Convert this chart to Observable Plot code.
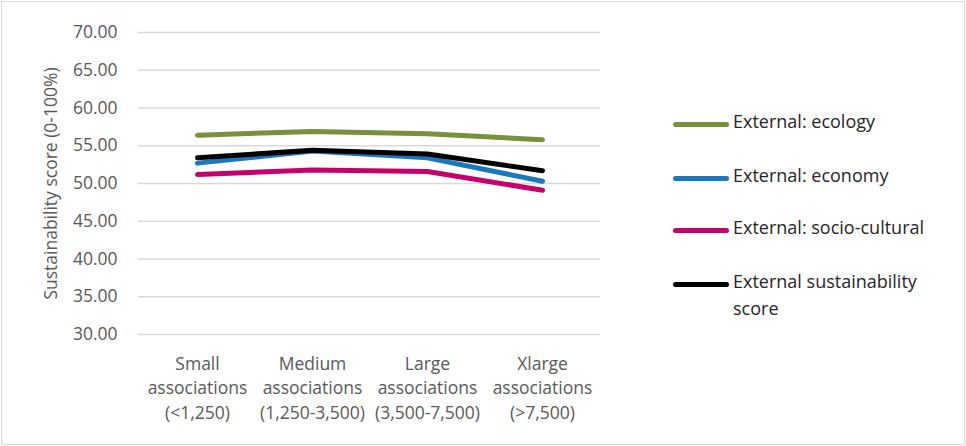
<!DOCTYPE html>
<html>
<head>
<meta charset="utf-8">
<script src="https://cdn.jsdelivr.net/npm/d3@7"></script>
<script src="https://cdn.jsdelivr.net/npm/@observablehq/plot@0.6"></script>
<style>
  body { margin: 0; background: #fff; }
  #wrap { position: relative; width: 966px; height: 446px; font-family: "Open Sans", sans-serif; }
  #border { position: absolute; left: 1px; top: 1px; width: 962px; height: 442px; border: 1px solid #d9d9d9; pointer-events: none; }
  #chart { position: absolute; left: 0; top: 0; }
  .legend-item { position: absolute; left: 673px; display: flex; align-items: flex-start; }
  .legend-swatch { width: 56px; height: 5px; border-radius: 3px; margin-top: 10px; margin-right: 4px; flex: none; }
  .legend-label { font-size: 18px; color: #262626; line-height: 27px; margin-top: -4px; width: 210px; }
</style>
</head>
<body>
<div id="wrap">
  <div id="chart"></div>
  <div id="legend"></div>
  <div id="border"></div>
</div>
<script>
// Association size classes (x axis)
const categories = [
  "Small\nassociations\n(<1,250)",
  "Medium\nassociations\n(1,250-3,500)",
  "Large\nassociations\n(3,500-7,500)",
  "Xlarge\nassociations\n(>7,500)"
];

// Mean external sustainability scores per size class
const ecology       = [56.4, 56.9, 56.6, 55.8];
const economy       = [52.7, 54.3, 53.4, 50.3];
const socioCultural = [51.2, 51.8, 51.6, 49.1];
const overall       = [53.4, 54.4, 53.9, 51.7];

const seriesNames  = ["External: ecology", "External: economy", "External: socio-cultural", "External sustainability score"];
const seriesValues = [ecology, economy, socioCultural, overall];
const seriesColors = ["#77923a", "#1c78be", "#c8006c", "#000000"];

const yTicks = [30, 35, 40, 45, 50, 55, 60, 65, 70];

const rows = seriesNames.flatMap((name, i) =>
  categories.map((c, j) => ({ series: name, category: c, value: seriesValues[i][j] }))
);

const chart = Plot.plot({
  width: 966,
  height: 446,
  marginLeft: 138,
  marginRight: 366,
  marginTop: 32,
  marginBottom: 112,
  style: { fontFamily: "'Open Sans', sans-serif", fontSize: "17.5px", color: "#595959", background: "transparent" },
  x: { type: "point", domain: categories, padding: 0.5, label: null },
  y: { domain: [30, 70], ticks: yTicks, label: null },
  color: { domain: seriesNames, range: seriesColors },
  marks: [
    Plot.gridY(yTicks, { stroke: "#d9d9d9", strokeOpacity: 1, strokeWidth: 1.3 }),
    Plot.axisY(yTicks, {
      tickSize: 0, tickPadding: 21, tickFormat: d => d.toFixed(2),
      fontSize: 17.5, fill: "#595959",
      label: "Sustainability score (0-100%)", labelAnchor: "center", labelOffset: 94, labelArrow: "none"
    }),
    Plot.axisX({
      tickSize: 0, tickPadding: 18, fontSize: 17.5, fill: "#595959", lineHeight: 1.4, label: null
    }),
    Plot.line(rows, {
      x: "category", y: "value", z: "series", stroke: "series",
      strokeWidth: 5, strokeLinecap: "round", strokeLinejoin: "round"
    })
  ]
});
document.getElementById("chart").appendChild(chart);

// Legend to the right of the plot
const legend = document.getElementById("legend");
const legendTops = [112, 166, 218, 272];
seriesNames.forEach((name, i) => {
  const item = document.createElement("div");
  item.className = "legend-item";
  item.style.top = legendTops[i] + "px";
  const sw = document.createElement("div");
  sw.className = "legend-swatch";
  sw.style.background = seriesColors[i];
  const lab = document.createElement("div");
  lab.className = "legend-label";
  lab.textContent = name;
  item.appendChild(sw);
  item.appendChild(lab);
  legend.appendChild(item);
});
</script>
</body>
</html>
